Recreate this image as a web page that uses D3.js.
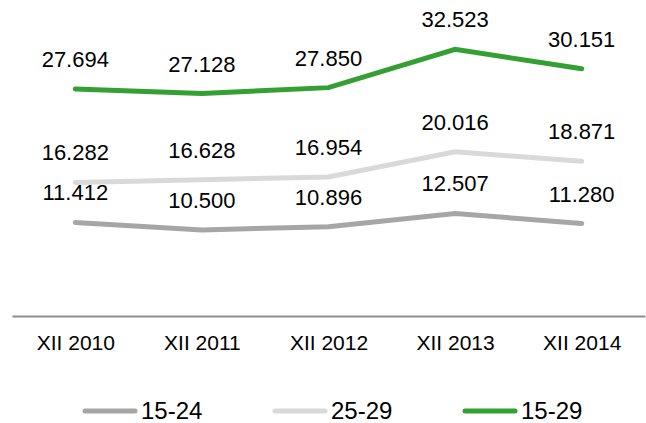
<!DOCTYPE html>
<html>
<head>
<meta charset="utf-8">
<script src="https://cdn.jsdelivr.net/npm/d3@7"></script>
<style>
	body { margin: 0; background: #fff; }
	svg { display: block; font-family: "Liberation Sans", Arial, sans-serif; }
</style>
</head>
<body>
<div id="graphic"></div>
<script>
// data
const categories = ['XII 2010', 'XII 2011', 'XII 2012', 'XII 2013', 'XII 2014'];
const seriesNames = ['15-24', '25-29', '15-29'];
const values1524 = [11.412, 10.500, 10.896, 12.507, 11.280];
const values2529 = [16.282, 16.628, 16.954, 20.016, 18.871];
const values1529 = [27.694, 27.128, 27.850, 32.523, 30.151];

const colours = ['#a6a6a6', '#d9d9d9', '#34a034'];
const width = 646, height = 423;

let series = [
	{ name: seriesNames[0], values: values1524, colour: colours[0] },
	{ name: seriesNames[1], values: values2529, colour: colours[1] },
	{ name: seriesNames[2], values: values1529, colour: colours[2] }
];

let svg = d3.select('#graphic')
	.append('svg')
	.attr('width', width)
	.attr('height', height);

const x = d3.scalePoint()
	.domain(categories)
	.range([12, 645])
	.padding(0.5);

const y = d3.scaleLinear()
	.domain([0, 35])
	.range([316, 29]);

// x axis, no ticks, just the baseline and labels
let xAxis = d3.axisBottom(x)
	.tickSize(0)
	.tickPadding(19);

let axisG = svg.append('g')
	.attr('transform', 'translate(0,' + y(0) + ')')
	.call(xAxis);

axisG.select('.domain')
	.attr('stroke', '#8c8c8c')
	.attr('stroke-width', 2);

axisG.selectAll('text')
	.attr('font-size', 21)
	.attr('font-family', '"Liberation Sans", Arial, sans-serif')
	.attr('fill', '#000');

const line = d3.line()
	.x((d, i) => x(categories[i]))
	.y((d) => y(d));

svg.append('g')
	.selectAll('path')
	.data(series)
	.join('path')
	.attr('fill', 'none')
	.attr('stroke', (d) => d.colour)
	.attr('stroke-width', 5)
	.attr('stroke-linecap', 'round')
	.attr('stroke-linejoin', 'miter')
	.attr('d', (d) => line(d.values));

// value labels above each point
svg.append('g')
	.selectAll('g')
	.data(series)
	.join('g')
	.selectAll('text')
	.data((d) => d.values)
	.join('text')
	.attr('x', (d, i) => x(categories[i]))
	.attr('y', (d) => y(d) - 22)
	.attr('text-anchor', 'middle')
	.attr('font-size', 22)
	.attr('fill', '#000')
	.text((d) => d3.format('.3f')(d));

// legend
let legendItem = svg.append('g')
	.selectAll('g')
	.data(series)
	.join('g')
	.attr('transform', (d, i) => 'translate(' + (83 + i * 190) + ',411)');

legendItem.append('line')
	.attr('x1', 2)
	.attr('x2', 52)
	.attr('stroke', (d) => d.colour)
	.attr('stroke-width', 5)
	.attr('stroke-linecap', 'round');

legendItem.append('text')
	.attr('x', 58)
	.attr('y', 8)
	.attr('font-size', 24)
	.attr('fill', '#000')
	.text((d) => d.name);
</script>
</body>
</html>
